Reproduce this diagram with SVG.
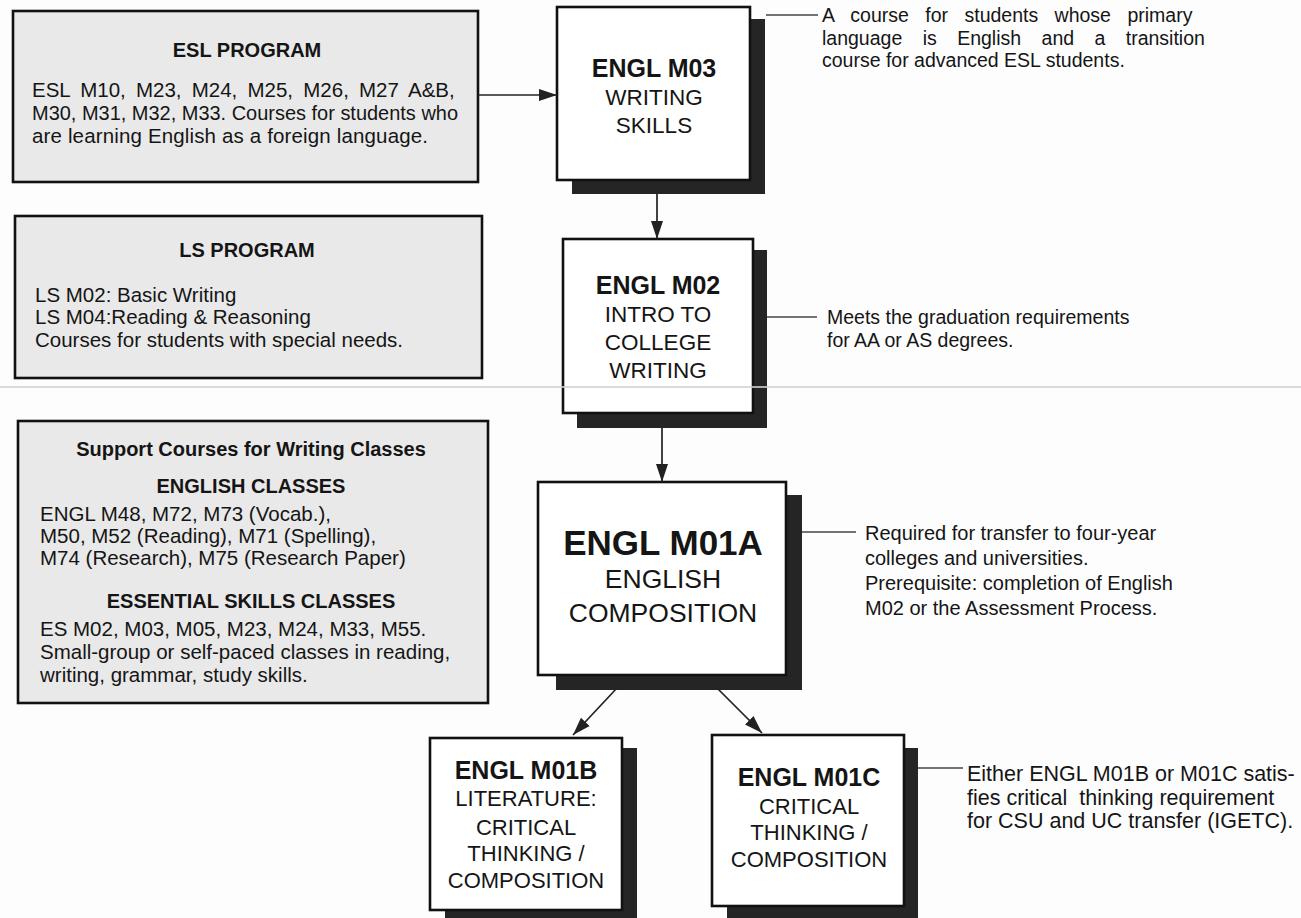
<svg xmlns="http://www.w3.org/2000/svg" width="1301" height="918" viewBox="0 0 1301 918">
<style>
.bg{fill:#fdfdfd}
.lbox{fill:#e9e9e9;stroke:#111;stroke-width:2.6}
.box{fill:#fff;stroke:#111;stroke-width:2.6}
.shadow{fill:#252525}
.t{font-family:"Liberation Sans",Arial,Helvetica,sans-serif;fill:#151515}
.b{font-weight:bold}
.m{text-anchor:middle}
.body{font-size:20.5px}
.head{font-size:20px;font-weight:bold}
.ct{font-size:25px;font-weight:bold}
.cs{font-size:22.5px}
.conn{stroke:#222;stroke-width:1.7;fill:none}
.lead{stroke:#444;stroke-width:1.6;fill:none}
.scan{stroke:#d2d2d2;stroke-width:2;opacity:0.8}
</style>
<defs>
<marker id="ah" markerUnits="userSpaceOnUse" markerWidth="19" markerHeight="14" refX="18" refY="7" orient="auto">
<path d="M0,1 L18,7 L0,13 z" fill="#222"/>
</marker>
</defs>
<rect class="bg" x="0" y="0" width="1301" height="918"/>

<g id="esl-program">
<rect class="lbox" x="13" y="11" width="465" height="171"/>
<text class="t head m" x="247" y="57">ESL PROGRAM</text>
<text class="t body" x="32" y="97" word-spacing="4.5">ESL M10, M23, M24, M25, M26, M27 A&amp;B,</text>
<text class="t body" x="32" y="120" textLength="426" lengthAdjust="spacingAndGlyphs">M30, M31, M32, M33. Courses for students who</text>
<text class="t body" x="32" y="143" textLength="396" lengthAdjust="spacing">are learning English as a foreign language.</text>
</g>

<g id="ls-program">
<rect class="lbox" x="15" y="216" width="467" height="162"/>
<text class="t head m" x="247" y="257">LS PROGRAM</text>
<text class="t body" x="35" y="302">LS M02: Basic Writing</text>
<text class="t body" x="35" y="324">LS M04:Reading &amp; Reasoning</text>
<text class="t body" x="35" y="347">Courses for students with special needs.</text>
</g>

<g id="support-courses">
<rect class="lbox" x="18" y="421" width="470" height="282"/>
<text class="t head m" x="251" y="456">Support Courses for Writing Classes</text>
<text class="t head m" x="251" y="493">ENGLISH CLASSES</text>
<text class="t body" x="40" y="521">ENGL M48, M72, M73 (Vocab.),</text>
<text class="t body" x="40" y="543">M50, M52 (Reading), M71 (Spelling),</text>
<text class="t body" x="40" y="565">M74 (Research), M75 (Research Paper)</text>
<text class="t head m" x="251" y="608">ESSENTIAL SKILLS CLASSES</text>
<text class="t body" x="40" y="636">ES M02, M03, M05, M23, M24, M33, M55.</text>
<text class="t body" x="40" y="659">Small-group or self-paced classes in reading,</text>
<text class="t body" x="40" y="682">writing, grammar, study skills.</text>
</g>

<g id="engl-m03">
<rect class="shadow" x="572" y="19" width="193" height="175"/>
<rect class="box" x="557" y="7" width="193" height="173"/>
<text class="t ct m" x="654" y="77">ENGL M03</text>
<text class="t cs m" x="654" y="105">WRITING</text>
<text class="t cs m" x="654" y="133">SKILLS</text>
</g>

<g id="engl-m02">
<rect class="shadow" x="577" y="250" width="190" height="178"/>
<rect class="box" x="563" y="239" width="190" height="174"/>
<text class="t ct m" x="658" y="294">ENGL M02</text>
<text class="t cs m" x="658" y="322">INTRO TO</text>
<text class="t cs m" x="658" y="350">COLLEGE</text>
<text class="t cs m" x="658" y="378">WRITING</text>
</g>

<g id="engl-m01a">
<rect class="shadow" x="556" y="495" width="246" height="195"/>
<rect class="box" x="538" y="482" width="248" height="193"/>
<text class="t b m" x="663" y="555" font-size="35">ENGL M01A</text>
<text class="t m" x="663" y="588" font-size="26.5">ENGLISH</text>
<text class="t m" x="663" y="622" font-size="26.5">COMPOSITION</text>
</g>

<g id="engl-m01b">
<rect class="shadow" x="445" y="748" width="192" height="180"/>
<rect class="box" x="430" y="738" width="192" height="172"/>
<text class="t ct m" x="526" y="779">ENGL M01B</text>
<text class="t m" x="526" y="806" font-size="22">LITERATURE:</text>
<text class="t m" x="526" y="835" font-size="22">CRITICAL</text>
<text class="t m" x="526" y="861" font-size="22">THINKING /</text>
<text class="t m" x="526" y="888" font-size="22">COMPOSITION</text>
</g>

<g id="engl-m01c">
<rect class="shadow" x="727" y="748" width="191" height="180"/>
<rect class="box" x="712" y="735" width="192" height="171"/>
<text class="t ct m" x="809" y="786">ENGL M01C</text>
<text class="t m" x="809" y="814" font-size="22">CRITICAL</text>
<text class="t m" x="809" y="840" font-size="22">THINKING /</text>
<text class="t m" x="809" y="867" font-size="22">COMPOSITION</text>
</g>

<g id="connectors">
<line class="conn" x1="478" y1="95" x2="557" y2="95" marker-end="url(#ah)"/>
<line class="conn" x1="657" y1="194" x2="657" y2="239" marker-end="url(#ah)"/>
<line class="conn" x1="662" y1="428" x2="662" y2="482" marker-end="url(#ah)"/>
<line class="conn" x1="617" y1="688" x2="573" y2="735" marker-end="url(#ah)"/>
<line class="conn" x1="717" y1="688" x2="762" y2="733" marker-end="url(#ah)"/>
<line class="lead" x1="766" y1="15" x2="818" y2="15"/>
<line class="lead" x1="767" y1="317" x2="817" y2="317"/>
<line class="lead" x1="802" y1="532" x2="856" y2="532"/>
<line class="lead" x1="918" y1="768" x2="963" y2="768"/>
</g>

<g id="note-m03">
<text class="t" x="822" y="22" font-size="19.5" word-spacing="11">A course for students whose primary</text>
<text class="t" x="822" y="45" font-size="19.5" word-spacing="15">language is English and a transition</text>
<text class="t" x="822" y="67" font-size="19.5">course for advanced ESL students.</text>
</g>

<g id="note-m02">
<text class="t" x="827" y="324" font-size="19.5">Meets the graduation requirements</text>
<text class="t" x="827" y="347" font-size="19.5">for AA or AS degrees.</text>
</g>

<g id="note-m01a">
<text class="t" x="865" y="540" font-size="20">Required for transfer to four-year</text>
<text class="t" x="865" y="565" font-size="20">colleges and universities.</text>
<text class="t" x="865" y="590" font-size="20">Prerequisite: completion of English</text>
<text class="t" x="865" y="615" font-size="20">M02 or the Assessment Process.</text>
</g>

<g id="note-m01bc">
<text class="t" x="967" y="781" font-size="21.5">Either ENGL M01B or M01C satis-</text>
<text class="t" x="967" y="805" font-size="21.5" xml:space="preserve">fies critical  thinking requirement</text>
<text class="t" x="967" y="828" font-size="21.5">for CSU and UC transfer (IGETC).</text>
</g>

<line class="scan" x1="0" y1="387" x2="1301" y2="387"/>
</svg>
